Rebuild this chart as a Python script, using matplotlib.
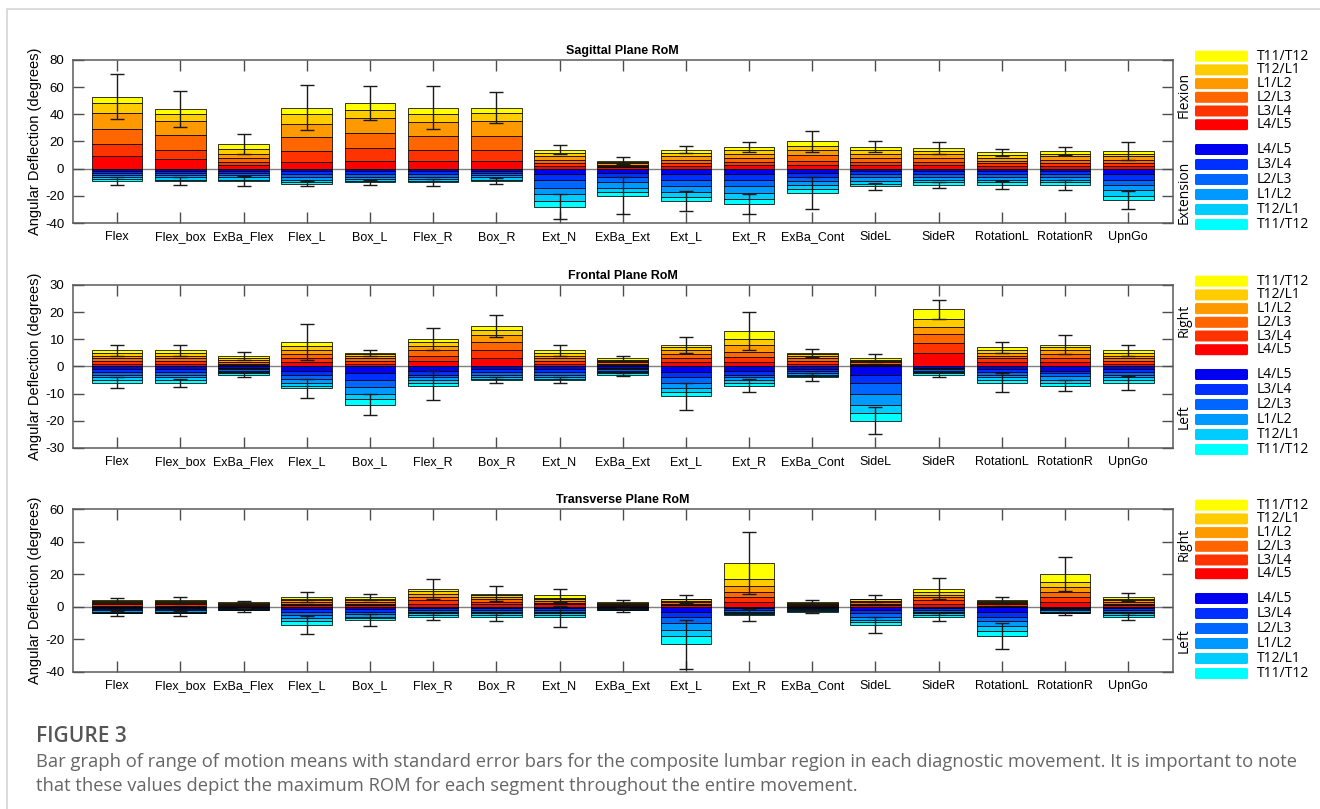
import numpy as np
import matplotlib
matplotlib.use("Agg")
import matplotlib.pyplot as plt
from matplotlib.patches import FancyBboxPatch

plt.rcParams['font.family'] = ['Liberation Sans', 'DejaVu Sans']
plt.rcParams['axes.unicode_minus'] = False

movements = ["Flex", "Flex_box", "ExBa_Flex", "Flex_L", "Box_L", "Flex_R", "Box_R",
             "Ext_N", "ExBa_Ext", "Ext_L", "Ext_R", "ExBa_Cont", "SideL", "SideR",
             "RotationL", "RotationR", "UpnGo"]

# stacking order from the zero line outwards
segments = ["L4/L5", "L3/L4", "L2/L3", "L1/L2", "T12/L1", "T11/T12"]
pos_colors = ["#ff0000", "#ff3300", "#ff6600", "#ff9900", "#ffcc00", "#ffff00"]
neg_colors = ["#0000f0", "#0030ff", "#0066ff", "#0099ff", "#00ccff", "#00ffff"]

# ---- sagittal plane (degrees, per segment) ----
sag_pos = [
    [9, 9, 11, 12, 7, 5],
    [7, 7, 11, 10, 5, 4],
    [3, 2, 2.5, 3, 4, 3.5],
    [5, 8, 10, 10, 7, 5],
    [6, 9, 11, 11, 6, 5],
    [6, 8, 10, 10, 6, 5],
    [6, 8, 10, 11, 6, 4],
    [2, 2, 2.5, 2.5, 2.5, 2.5],
    [1, 1, 1, 1, 1, 1],
    [2, 2, 2.5, 2.5, 2.5, 2.5],
    [2.5, 2.5, 3, 3, 2.5, 2.5],
    [3, 3, 4, 4, 3, 3],
    [2.5, 2.5, 3, 3, 2.5, 2.5],
    [2.5, 2.5, 3, 3, 2, 2],
    [2, 2, 2, 2, 2, 2],
    [2, 2, 2.5, 2.5, 2, 2],
    [2, 2, 2.5, 2.5, 2, 2],
]
sag_neg = [
    [-2, -1.5, -1.5, -1, -1.5, -1.5],
    [-2, -1.5, -1.5, -1.5, -1.5, -1],
    [-2, -1.5, -1.5, -1.5, -1.5, -1],
    [-2, -2, -2, -2, -1.5, -1.5],
    [-2, -2, -2, -1.5, -1.5, -1],
    [-2, -2, -2, -1.5, -1.5, -1],
    [-2, -1.5, -1.5, -1.5, -1.5, -1],
    [-4, -4, -6, -5, -5, -4],
    [-3, -3, -4, -4, -3, -3],
    [-4, -4, -5, -4, -4, -3],
    [-4, -4, -5, -5, -4, -4],
    [-3, -3, -3, -3, -3, -3],
    [-2, -2, -2.5, -2.5, -2, -2],
    [-2, -2, -2, -2, -2, -2],
    [-2, -2, -2, -2, -2, -2],
    [-2, -2, -2, -2, -2, -2],
    [-4, -4, -4, -4, -4, -3],
]
sag_pos_se = [16.5, 13.5, 7.5, 16.5, 12.5, 16, 11.5, 3.5, 2.5, 2.5, 3.5, 8, 4, 4.5, 2.5, 3, 6.5]
sag_neg_se = [3, 3, 3.5, 2, 2, 2.5, 2, 9, 13.5, 7.5, 7.5, 11.5, 2.5, 2, 3, 3.5, 6.5]

# ---- frontal plane ----
fro_pos = [
    [1, 1, 1, 1, 1, 1],
    [1, 1, 1, 1, 1, 1],
    [0.5, 0.5, 0.75, 0.75, 0.75, 0.75],
    [1.5, 1.5, 1.5, 1.5, 1.5, 1.5],
    [1, 1, 1, 0.75, 0.75, 0.5],
    [2, 2, 2, 1.5, 1.5, 1],
    [3, 3, 3, 2.5, 2, 1.5],
    [1, 1, 1, 1, 1, 1],
    [0.5, 0.5, 0.5, 0.5, 0.5, 0.5],
    [1.5, 1.5, 1.5, 1.5, 1, 1],
    [1.5, 2, 2, 2.5, 2, 3],
    [1, 1, 1, 0.75, 0.75, 0.5],
    [0.5, 0.5, 0.5, 0.5, 0.5, 0.5],
    [5, 3.5, 3.3, 2.8, 3, 3.4],
    [1.5, 1.5, 1, 1, 1, 1],
    [1.5, 1.5, 1.5, 1.5, 1, 1],
    [1, 1, 1, 1, 1, 1],
]
fro_neg = [
    [-1, -1, -1, -1, -1, -1],
    [-1, -1, -1, -1, -1, -1],
    [-0.5, -0.5, -0.5, -0.5, -0.5, -0.5],
    [-1.5, -1.5, -1.5, -1.5, -1, -1],
    [-2.5, -2.5, -2.5, -2.5, -2, -2],
    [-1.5, -1.5, -1, -1, -1, -1],
    [-1, -1, -1, -0.75, -0.75, -0.5],
    [-1, -1, -1, -0.75, -0.75, -0.5],
    [-0.5, -0.5, -0.5, -0.5, -0.5, -0.5],
    [-2, -2, -2, -2, -1.5, -1.5],
    [-1.5, -1.5, -1, -1, -1, -1],
    [-0.75, -0.75, -0.75, -0.75, -0.5, -0.5],
    [-3, -3, -4, -4, -3, -3],
    [-0.5, -0.5, -0.5, -0.5, -0.5, -0.5],
    [-1, -1, -1, -1, -1, -1],
    [-1.5, -1, -1, -1.5, -1, -1],
    [-1, -1, -1, -1, -1, -1],
]
fro_pos_se = [2, 2, 1.5, 6.5, 1, 4, 4, 2, 1, 3, 7, 1.5, 1.5, 3.5, 2, 3.5, 2]
fro_neg_se = [2, 1.5, 1, 3.5, 4, 5.5, 1, 1, 0.5, 5, 2.5, 1.5, 5, 1, 3.5, 2, 2.5]

# ---- transverse plane ----
tra_pos = [
    [0.75, 0.75, 0.75, 0.75, 0.5, 0.5],
    [0.75, 0.75, 0.75, 0.75, 0.5, 0.5],
    [0.5, 0.5, 0.5, 0.5, 0.5, 0.5],
    [1, 1, 1, 1, 1, 1],
    [1, 1, 1, 1, 1, 1],
    [2, 2, 2, 2, 1.5, 1.5],
    [1.5, 1.5, 1.5, 1.5, 1, 1],
    [1.5, 1, 1, 1, 1, 1.5],
    [0.5, 0.5, 0.5, 0.5, 0.5, 0.5],
    [1, 1, 1, 0.75, 0.75, 0.5],
    [3, 3, 3, 4, 4, 10],
    [0.5, 0.5, 0.5, 0.5, 0.5, 0.5],
    [1, 1, 1, 0.75, 0.75, 0.5],
    [2, 2, 2, 1.5, 1.5, 2],
    [0.75, 0.75, 0.75, 0.75, 0.5, 0.5],
    [3, 3, 3, 3, 3, 5],
    [1, 1, 1, 1, 1, 1],
]
tra_neg = [
    [-0.75, -0.75, -0.75, -0.75, -0.5, -0.5],
    [-0.75, -0.75, -0.75, -0.75, -0.5, -0.5],
    [-0.5, -0.5, -0.25, -0.25, -0.25, -0.25],
    [-1.5, -1.5, -2, -2, -2, -2],
    [-1.5, -1.5, -1.5, -1.5, -1, -1],
    [-1, -1, -1, -1, -1, -1],
    [-1, -1, -1, -1, -1, -1],
    [-1, -1, -1, -1, -1, -1],
    [-0.5, -0.5, -0.25, -0.25, -0.25, -0.25],
    [-3, -3, -4, -4, -4, -5],
    [-1, -1, -1, -0.75, -0.75, -0.5],
    [-0.5, -0.5, -0.5, -0.5, -0.5, -0.5],
    [-2, -2, -2, -2, -1.5, -1.5],
    [-1, -1, -1, -1, -1, -1],
    [-3, -3, -3, -3, -3, -3],
    [-0.75, -0.75, -0.75, -0.75, -0.5, -0.5],
    [-1, -1, -1, -1, -1, -1],
]
tra_pos_se = [1.5, 2, 0.5, 3, 2, 6, 4.5, 4, 1, 2.5, 19, 1, 2, 6.5, 2, 10.5, 2.5]
tra_neg_se = [1.5, 1.5, 1, 5.5, 3.5, 2, 2.5, 6.5, 1, 15, 3.5, 1, 5, 2.5, 8, 1, 2]

panels = [
    ("Sagittal Plane RoM", sag_pos, sag_neg, sag_pos_se, sag_neg_se,
     (-40, 80), np.arange(-40, 81, 20), ("Flexion", "Extension"), 60),
    ("Frontal Plane RoM", fro_pos, fro_neg, fro_pos_se, fro_neg_se,
     (-30, 30), np.arange(-30, 31, 10), ("Right", "Left"), 285),
    ("Transverse Plane RoM", tra_pos, tra_neg, tra_pos_se, tra_neg_se,
     (-40, 60), np.arange(-40, 61, 20), ("Right", "Left"), 509),
]

W, H = 1320, 809
fig = plt.figure(figsize=(W / 100, H / 100), dpi=100)

# page layer in pixel units for the frame, legends and caption
page = fig.add_axes([0, 0, 1, 1])
page.set_xlim(0, W)
page.set_ylim(H, 0)
page.axis("off")
page.plot([7, 7, W], [H, 9, 9], color="#d4d4d4", lw=1.2)

leg_font = ["Open Sans", "DejaVu Sans"]


def stacked(ax, x, rows, colors):
    rows = np.array(rows, dtype=float)
    base = np.zeros(len(x))
    for k in range(rows.shape[1]):
        ax.bar(x, rows[:, k], bottom=base, width=0.8, color=colors[k],
               edgecolor="black", linewidth=0.55, zorder=2)
        base += rows[:, k]
    return base


def draw_legend(top, labels):
    for i, seg in enumerate(segments[::-1]):
        y = top - 9.3 + i * 13.7
        page.add_patch(FancyBboxPatch((1195, y), 53, 11, boxstyle="round,pad=0,rounding_size=1.5",
                                      fc=pos_colors[::-1][i], ec="none"))
        page.text(1257, y + 5.5, seg, va="center", ha="left", fontsize=10, family=leg_font)
    for i, seg in enumerate(segments):
        y = top + 84 + i * 15
        page.add_patch(FancyBboxPatch((1195, y), 53, 11, boxstyle="round,pad=0,rounding_size=1.5",
                                      fc=neg_colors[i], ec="none"))
        page.text(1257, y + 5.5, seg, va="center", ha="left", fontsize=10, family=leg_font)
    page.text(1184, top + 35, labels[0], rotation=90, ha="center", va="center",
              fontsize=10, family=leg_font)
    page.text(1184, top + 132, labels[1], rotation=90, ha="center", va="center",
              fontsize=10, family=leg_font)


x = np.arange(1, len(movements) + 1)
ax_h = 163

for title, pos, neg, pos_se, neg_se, ylim, yticks, side, top in panels:
    ax = fig.add_axes([72.7 / W, (H - top - ax_h) / H, 1100 / W, ax_h / H])
    ptot = stacked(ax, x, pos, pos_colors)
    ntot = stacked(ax, x, neg, neg_colors)
    ax.errorbar(x, ptot, yerr=pos_se, fmt="none", ecolor="#1a1a1a", elinewidth=1,
                capsize=5, capthick=1, zorder=3)
    ax.errorbar(x, ntot, yerr=neg_se, fmt="none", ecolor="#1a1a1a", elinewidth=1,
                capsize=5, capthick=1, zorder=3)
    ax.axhline(0, color="#7f7f7f", lw=1, zorder=1)

    ax.set_xlim(0.297, 17.703)
    ax.set_ylim(*ylim)
    ax.set_xticks(x)
    ax.set_xticklabels(movements, fontsize=9)
    ax.set_yticks(yticks)
    ax.set_yticklabels([str(v) for v in yticks], fontsize=9.5)
    ax.tick_params(direction="in", length=8, width=1, color="#4d4d4d",
                   top=True, right=True, pad=6)
    for sp in ax.spines.values():
        sp.set_color("#5a5a5a")
        sp.set_linewidth(1.1)
    ax.set_title(title, fontsize=9, fontweight="bold", pad=4)
    ax.set_ylabel("Angular Deflection (degrees)", fontsize=10.5, labelpad=2)

    draw_legend(top, side)

page.text(36, 737, "FIGURE 3", fontsize=15, color="#555555", va="center",
          family=leg_font, fontweight="semibold")
page.text(36, 762, "Bar graph of range of motion means with standard error bars for the composite "
          "lumbar region in each diagnostic movement. It is important to note",
          fontsize=13.2, color="#666666", va="center", family=leg_font)
page.text(36, 786, "that these values depict the maximum ROM for each segment throughout the entire movement.",
          fontsize=13.2, color="#666666", va="center", family=leg_font)

fig.savefig("out.png", dpi=100)
